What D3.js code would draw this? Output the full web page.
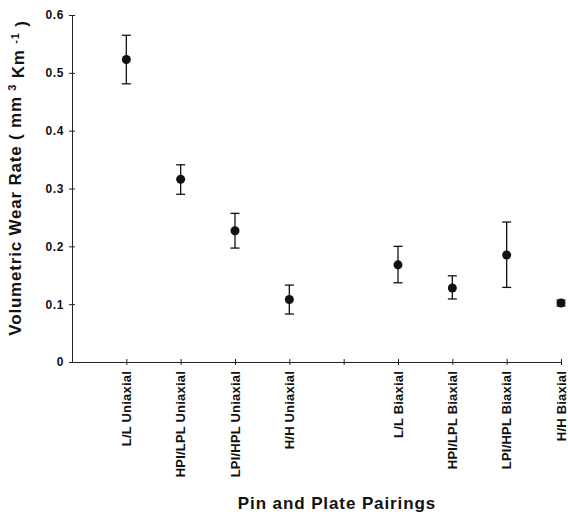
<!DOCTYPE html>
<html>
<head>
<meta charset="utf-8">
<script src="https://cdn.jsdelivr.net/npm/d3@7"></script>
<style>
  body { margin: 0; background: #fff; }
  text { font-family: "Liberation Sans", Arial, sans-serif; font-weight: bold; fill: #111; }
</style>
</head>
<body>
<div id="chart"></div>
<script>
const w = 568;
const h = 519;

// data
const pairings = ["L/L Uniaxial", "HPI/LPL Uniaxial", "LPI/HPL Uniaxial", "H/H Uniaxial",
                  "L/L Biaxial", "HPI/LPL Biaxial", "LPI/HPL Biaxial", "H/H Biaxial"];
const slots = [1, 2, 3, 4, 6, 7, 8, 9];
const wearRate = [0.523, 0.316, 0.227, 0.108, 0.168, 0.128, 0.185, 0.102];
const errLow  = [0.481, 0.290, 0.197, 0.083, 0.137, 0.109, 0.129, 0.097];
const errHigh = [0.565, 0.341, 0.257, 0.133, 0.200, 0.149, 0.242, 0.107];
const yTicks = [0, 0.1, 0.2, 0.3, 0.4, 0.5, 0.6];
const xTicks = [1, 2, 3, 4, 5, 6, 7, 8, 9];

const points = pairings.map((p, i) => ({
    name: p, slot: slots[i], v: wearRate[i], lo: errLow[i], hi: errHigh[i]
}));

const x = d3.scaleLinear().domain([0, 9]).range([72, 561]);
const y = d3.scaleLinear().domain([0, 0.6]).range([362, 15]);

const svg = d3.select("#chart").append("svg").attr("width", w).attr("height", h);

// y axis
const yAxis = svg.append("g").attr("transform", "translate(" + x(0) + ",0)")
    .call(d3.axisLeft(y).tickValues(yTicks).tickSizeInner(3).tickSizeOuter(0)
        .tickFormat(d => d === 0 ? "0" : d3.format(".1f")(d)));
yAxis.select(".domain").attr("stroke", "#222");
yAxis.selectAll(".tick line").attr("x1", -3).attr("x2", 3).attr("stroke", "#222");
yAxis.selectAll(".tick text").attr("x", -8).style("font-size", "12px").style("letter-spacing", "0.6px");

// x axis
const xAxis = svg.append("g").attr("transform", "translate(0," + y(0) + ")")
    .call(d3.axisBottom(x).tickValues(xTicks).tickSizeInner(3).tickSizeOuter(0).tickFormat(""));
xAxis.select(".domain").attr("stroke", "#222");
xAxis.selectAll(".tick line").attr("y1", -3).attr("y2", 3).attr("stroke", "#222");

// category labels
svg.append("g").selectAll(".xlab")
    .data(points)
    .enter().append("text")
        .attr("class", "xlab")
        .attr("transform", d => "translate(" + x(d.slot) + ",371) rotate(-90)")
        .attr("text-anchor", "end")
        .attr("dy", "0.36em")
        .style("font-size", "13px")
        .style("letter-spacing", "0.2px")
        .text(d => d.name);

// error bars
const err = svg.append("g").attr("stroke", "#111").attr("stroke-width", 1.3);
err.selectAll(".stem").data(points).enter().append("line")
    .attr("x1", d => x(d.slot)).attr("x2", d => x(d.slot))
    .attr("y1", d => y(d.lo)).attr("y2", d => y(d.hi));
err.selectAll(".capT").data(points).enter().append("line")
    .attr("x1", d => x(d.slot) - 4.5).attr("x2", d => x(d.slot) + 4.5)
    .attr("y1", d => y(d.hi)).attr("y2", d => y(d.hi));
err.selectAll(".capB").data(points).enter().append("line")
    .attr("x1", d => x(d.slot) - 4.5).attr("x2", d => x(d.slot) + 4.5)
    .attr("y1", d => y(d.lo)).attr("y2", d => y(d.lo));

// points
svg.append("g").selectAll("circle")
    .data(points)
    .enter().append("circle")
        .attr("cx", d => x(d.slot))
        .attr("cy", d => y(d.v))
        .attr("r", 4.5)
        .attr("fill", "#111");

// axis titles
const yt = svg.append("text")
    .attr("transform", "translate(21,178) rotate(-90)")
    .attr("text-anchor", "middle")
    .style("font-size", "17px")
    .style("letter-spacing", "0.8px");
yt.append("tspan").text("Volumetric Wear Rate ( mm ");
yt.append("tspan").attr("dy", "-0.5em").style("font-size", "11px").text("3");
yt.append("tspan").attr("dy", "0.5em").text(" Km ");
yt.append("tspan").attr("dy", "-0.5em").style("font-size", "11px").text("-1");
yt.append("tspan").attr("dy", "0.5em").text(" )");

svg.append("text")
    .attr("x", 337).attr("y", 509)
    .attr("text-anchor", "middle")
    .style("font-size", "17px")
    .style("letter-spacing", "0.9px")
    .text("Pin and Plate Pairings");
</script>
</body>
</html>
